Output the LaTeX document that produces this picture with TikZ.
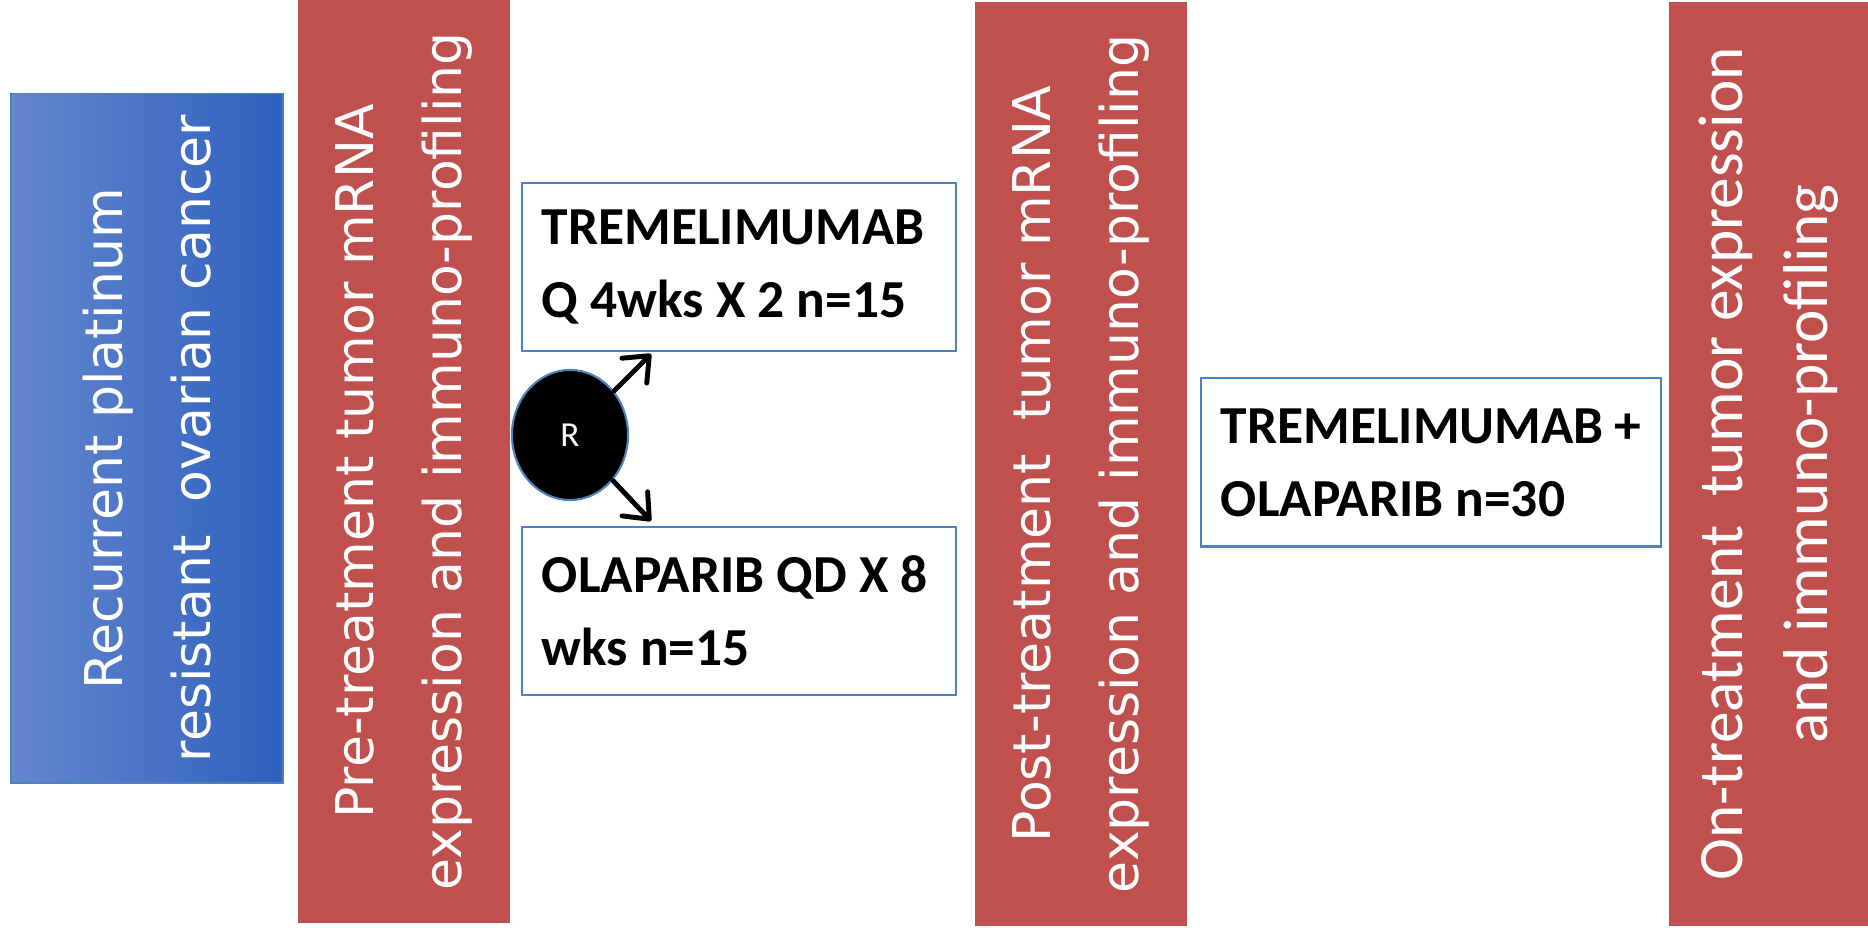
\documentclass[tikz,border=0pt]{standalone}
\usepackage{fontspec}
\usetikzlibrary{shapes.geometric, arrows.meta}

\newfontfamily\dejavu{DejaVu Sans}
\newfontfamily\carlito{Carlito}

\definecolor{boxred}{RGB}{192,80,77}
\definecolor{edgeblue}{RGB}{79,129,189}
\definecolor{lightblue}{RGB}{100,135,205}
\definecolor{darkblue}{RGB}{47,96,190}

\tikzset{
	column/.style={rectangle, rotate=90, align=center, text=white, inner sep=0pt,
		font=\dejavu\fontsize{14.8}{25}\selectfont},
	arm/.style={rectangle, draw=edgeblue, line width=0.6pt, align=flush left, inner xsep=0.2cm,
		minimum height=1.68cm, font=\carlito\bfseries\fontsize{15.2}{20.7}\selectfont}
}

\begin{document}
\begin{tikzpicture}[x=0.01cm, y=-0.01cm, ->, >={Straight Barb[length=6pt,width=10pt,round]}]
			\useasboundingbox (0,0) rectangle (1868,928);
			% the four columns, text turned to read upwards
			\node (1) [column, minimum width=6.89cm, minimum height=2.72cm, draw=edgeblue,
				left color=lightblue, right color=darkblue] at (147,438.5)
				{Recurrent platinum\\resistant\ \ ovarian cancer};
			\node (2) [column, minimum width=9.23cm, minimum height=2.12cm, fill=boxred] at (404,461.5)
				{Pre-treatment tumor mRNA\\expression and immuno-profiling};
			\node (6) [column, minimum width=9.24cm, minimum height=2.12cm, fill=boxred] at (1081,464)
				{Post-treatment\ \ tumor mRNA\\expression and immuno-profiling};
			\node (8) [column, minimum width=9.24cm, minimum height=1.99cm, fill=boxred,
				font=\carlito\fontsize{18}{24}\selectfont] at (1768.5,464)
				{On-treatment\ \ tumor expression\\and immuno-profiling};
			% randomisation
			\node (5) [ellipse, fill=black, draw=edgeblue, line width=0.6pt, minimum width=1.16cm,
				minimum height=1.3cm, inner sep=0pt, text=white, font=\carlito\fontsize{10}{12}\selectfont]
				at (570,435) {R};
			\node (3) [arm, text width=3.94cm] at (739,267) {TREMELIMUMAB\\Q 4wks X 2 n=15};
			\node (4) [arm, text width=3.94cm] at (739,611) {OLAPARIB QD X 8\\wks n=15};
			\node (7) [arm, text width=4.2cm] at (1431,462.5) {TREMELIMUMAB +\\OLAPARIB n=30};
			\coordinate (a) at (651,354);
			\coordinate (b) at (651,521);
			\path
			(5) edge [line width=1.4pt, line cap=round] (a)
			(5) edge [line width=1.4pt, line cap=round] (b);
		\end{tikzpicture}
\end{document}
